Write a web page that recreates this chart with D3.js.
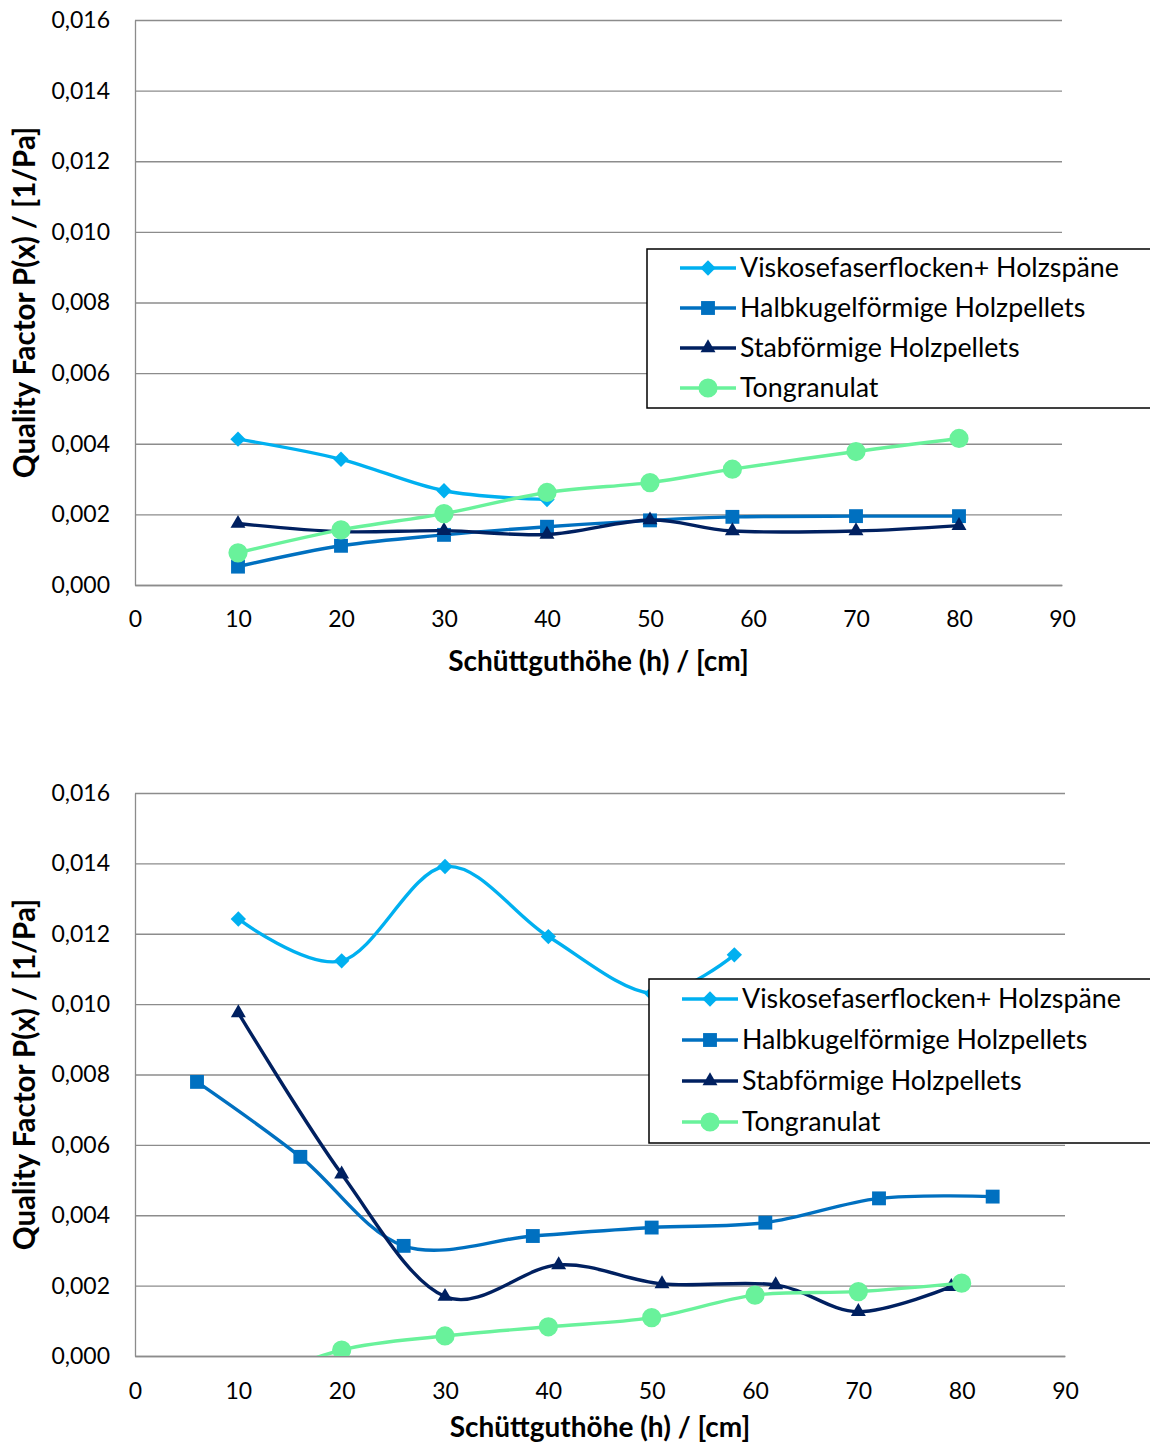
<!DOCTYPE html>
<html>
<head>
<meta charset="utf-8">
<script src="https://cdn.jsdelivr.net/npm/d3@7"></script>
<style>
  html, body { margin: 0; padding: 0; background: #fff; }
  svg { display: block; }
  text { font-family: Lato, "Open Sans", sans-serif; fill: #000; }
</style>
</head>
<body>
<svg id="chart" width="1150" height="1443"></svg>
<script>
// Series names and styling order
const seriesNames = [
  "Viskosefaserflocken+ Holzspäne",
  "Halbkugelförmige Holzpellets",
  "Stabförmige Holzpellets",
  "Tongranulat"
];
const seriesColors = ["#00B0F0", "#0070C0", "#002060", "#69F29B"];
const seriesSymbols = ["diamond", "square", "triangle", "circle"];

// Axis ticks
const xTicks = [0, 10, 20, 30, 40, 50, 60, 70, 80, 90];
const yTicks = [0, 0.002, 0.004, 0.006, 0.008, 0.010, 0.012, 0.014, 0.016];

const xTitle = "Schüttguthöhe (h) / [cm]";
const yTitle = "Quality Factor P(x) / [1/Pa]";

// Upper chart
const topViskoseX = [10, 20, 30, 40];
const topViskoseY = [0.00413, 0.00356, 0.00267, 0.00242];
const topHalbX = [10, 20, 30, 40, 50, 58, 70, 80];
const topHalbY = [0.00052, 0.00111, 0.00142, 0.00165, 0.00183, 0.00193, 0.00195, 0.00195];
const topStabX = [10, 20, 30, 40, 50, 58, 70, 80];
const topStabY = [0.00174, 0.00151, 0.00154, 0.00143, 0.00184, 0.00153, 0.00153, 0.00168];
const topTongX = [10, 20, 30, 40, 50, 58, 70, 80];
const topTongY = [0.00091, 0.00156, 0.00202, 0.00262, 0.00290, 0.00328, 0.00378, 0.00415];

// Lower chart
const botViskoseX = [10, 20, 30, 40, 50, 58];
const botViskoseY = [0.01242, 0.01123, 0.01391, 0.01192, 0.01030, 0.01140];
const botHalbX = [6, 16, 26, 38.5, 50, 61, 72, 83];
const botHalbY = [0.00779, 0.00566, 0.00313, 0.00341, 0.00365, 0.00379, 0.00448, 0.00453];
const botStabX = [10, 20, 30, 41, 51, 62, 70, 79];
const botStabY = [0.00975, 0.00517, 0.00169, 0.00259, 0.00205, 0.00202, 0.00126, 0.00197];
const botTongX = [10, 20, 30, 40, 50, 60, 70, 80];
const botTongY = [-0.0009, 0.00017, 0.00057, 0.00083, 0.00109, 0.00173, 0.00183, 0.00207];

const zip = (xs, ys) => xs.map((x, i) => ({ x, y: ys[i] }));

const panels = [
  {
    id: "top",
    box: { left: 135, right: 1062, top: 20, bottom: 585 },
    series: [zip(topViskoseX, topViskoseY), zip(topHalbX, topHalbY), zip(topStabX, topStabY), zip(topTongX, topTongY)],
    legend: { x: 647, y: 249, h: 159, rows: [268, 308, 348, 388], lineX0: 680, lineX1: 736, textX: 740 },
    xLabelY: 619, xTitleY: 661, yTitleX: 25
  },
  {
    id: "bottom",
    box: { left: 135, right: 1065, top: 793, bottom: 1356 },
    series: [zip(botViskoseX, botViskoseY), zip(botHalbX, botHalbY), zip(botStabX, botStabY), zip(botTongX, botTongY)],
    legend: { x: 649, y: 979, h: 164, rows: [999, 1040, 1081, 1122], lineX0: 682, lineX1: 738, textX: 742 },
    xLabelY: 1391, xTitleY: 1427, yTitleX: 25
  }
];

const locale = d3.formatLocale({ decimal: ",", thousands: ".", grouping: [3], currency: ["", " €"] });
const fmtY = locale.format(".3f");

const svg = d3.select("#chart");
svg.append("rect").attr("width", 1150).attr("height", 1443).attr("fill", "#fff");

const gridColor = "#8c8c8c";

function symbolPath(kind) {
  const map = {
    diamond: d3.symbol(d3.symbolDiamond2, 150),
    square: d3.symbol(d3.symbolSquare2, 245),
    triangle: d3.symbol(d3.symbolTriangle2, 160),
    circle: d3.symbol(d3.symbolCircle, 290)
  };
  return map[kind]();
}

panels.forEach(p => {
  const b = p.box;
  const x = d3.scaleLinear().domain([0, 90]).range([b.left, b.right]);
  const y = d3.scaleLinear().domain([0, 0.016]).range([b.bottom, b.top]);
  const g = svg.append("g").attr("class", "panel-" + p.id);

  // Horizontal gridlines
  g.append("g")
    .attr("transform", `translate(${b.left},0)`)
    .call(d3.axisLeft(y).tickValues(yTicks).tickSize(-(b.right - b.left)).tickFormat(""))
    .call(s => s.select(".domain").remove())
    .call(s => s.selectAll("line").attr("stroke", gridColor).attr("stroke-width", 1.3));

  // Y axis line and labels
  const yAxis = g.append("g")
    .attr("transform", `translate(${b.left},0)`)
    .call(d3.axisLeft(y).tickValues(yTicks).tickSize(0).tickPadding(25).tickFormat(fmtY));
  yAxis.select(".domain").attr("stroke", gridColor).attr("stroke-width", 1.3);
  yAxis.selectAll("text").style("font-family", "Lato, sans-serif").style("font-size", "23px").attr("fill", "#000");

  // X axis line and labels
  const xAxis = g.append("g")
    .attr("transform", `translate(0,${b.bottom})`)
    .call(d3.axisBottom(x).tickValues(xTicks).tickSize(0).tickPadding(0).tickFormat(d3.format("d")));
  xAxis.select(".domain").attr("stroke", gridColor).attr("stroke-width", 1.3);
  xAxis.selectAll("text")
    .attr("y", p.xLabelY - b.bottom).attr("dy", "0.35em")
    .style("font-family", "Lato, sans-serif").style("font-size", "23px").attr("fill", "#000");

  // Axis titles
  g.append("text")
    .attr("x", (b.left + b.right) / 2).attr("y", p.xTitleY).attr("dy", "0.35em")
    .attr("text-anchor", "middle")
    .style("font-size", "28px").style("font-weight", "bold")
    .text(xTitle);
  g.append("text")
    .attr("transform", `translate(${p.yTitleX},${(b.top + b.bottom) / 2}) rotate(-90)`)
    .attr("dy", "0.35em")
    .attr("text-anchor", "middle")
    .style("font-size", "29.5px").style("font-weight", "bold")
    .text(yTitle);

  // Plot area clip
  const clipId = "clip-" + p.id;
  svg.append("defs").append("clipPath").attr("id", clipId)
    .append("rect").attr("x", b.left).attr("y", b.top)
    .attr("width", b.right - b.left).attr("height", b.bottom - b.top);

  const plot = g.append("g").attr("clip-path", `url(#${clipId})`);
  const line = d3.line().x(d => x(d.x)).y(d => y(d.y)).curve(d3.curveCardinal.tension(0));

  p.series.forEach((data, i) => {
    const sg = plot.append("g");
    sg.append("path").datum(data)
      .attr("d", line)
      .attr("fill", "none")
      .attr("stroke", seriesColors[i])
      .attr("stroke-width", 3.4)
      .attr("stroke-linejoin", "round");
    sg.selectAll("path.marker").data(data).enter().append("path")
      .attr("class", "marker")
      .attr("transform", d => `translate(${x(d.x)},${y(d.y)})`)
      .attr("d", symbolPath(seriesSymbols[i]))
      .attr("fill", seriesColors[i]);
  });

  // Legend
  const L = p.legend;
  const lg = g.append("g");
  lg.append("rect")
    .attr("x", L.x).attr("y", L.y).attr("width", 560).attr("height", L.h)
    .attr("fill", "#fff").attr("stroke", "#000").attr("stroke-width", 1.5);
  seriesNames.forEach((name, i) => {
    const cy = L.rows[i];
    lg.append("line")
      .attr("x1", L.lineX0).attr("x2", L.lineX1).attr("y1", cy).attr("y2", cy)
      .attr("stroke", seriesColors[i]).attr("stroke-width", 3.4);
    lg.append("path")
      .attr("transform", `translate(${(L.lineX0 + L.lineX1) / 2},${cy})`)
      .attr("d", symbolPath(seriesSymbols[i]))
      .attr("fill", seriesColors[i]);
    lg.append("text")
      .attr("x", L.textX).attr("y", cy).attr("dy", "0.35em")
      .style("font-size", "26.8px")
      .text(name);
  });
});
</script>
</body>
</html>
